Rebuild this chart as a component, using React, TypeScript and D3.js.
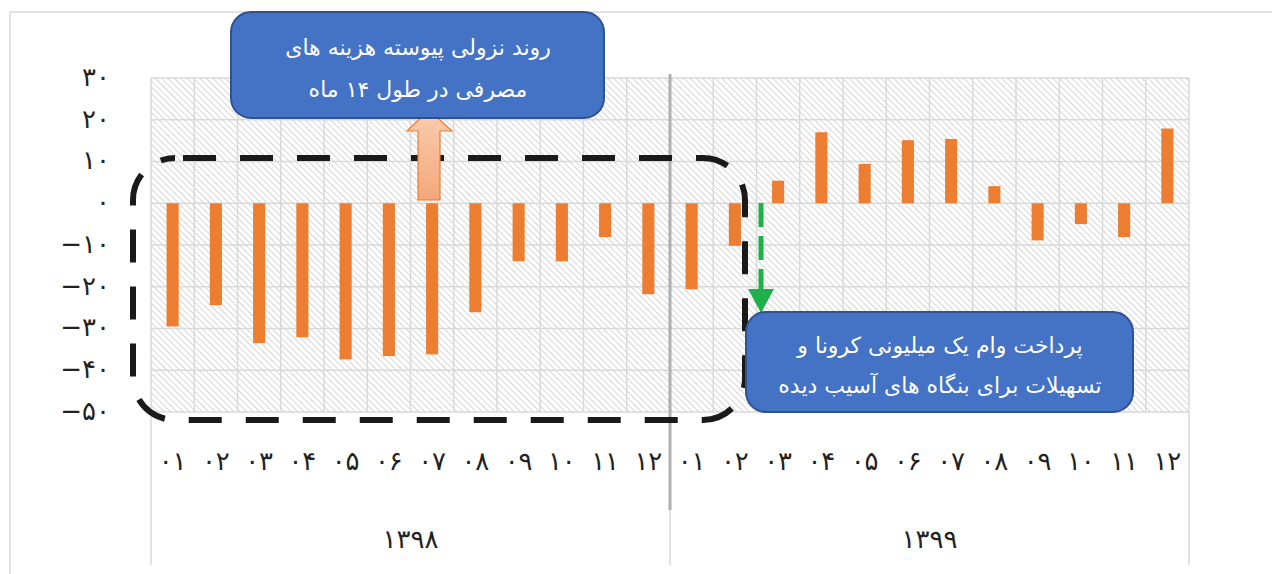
import * as d3 from "d3";

const months = ["۰۱", "۰۲", "۰۳", "۰۴", "۰۵", "۰۶", "۰۷", "۰۸", "۰۹", "۱۰", "۱۱", "۱۲"];
const years = ["۱۳۹۸", "۱۳۹۹"];
const values1398 = [-29.5, -24.4, -33.5, -32.1, -37.4, -36.6, -36.2, -26.1, -13.9, -13.9, -8.1, -21.8];
const values1399 = [-20.6, -10.2, 5.4, 17.0, 9.4, 15.1, 15.4, 4.1, -8.9, -5.0, -8.1, 17.9];
const yTicks = [30, 20, 10, 0, -10, -20, -30, -40, -50];
const note1 = ["روند نزولی پیوسته هزینه های", "مصرفی در طول ۱۴ ماه"];
const note2 = ["پرداخت وام یک میلیونی کرونا و", "تسهیلات برای بنگاه های آسیب دیده"];

const fa = (n: number) =>
  (n < 0 ? "−" : "") + String(Math.abs(n)).replace(/\d/g, (d) => "۰۱۲۳۴۵۶۷۸۹"[+d]);

const W = 1272;
const H = 574;
const L = 151;
const R = 1189;
const T = 78;
const B = 412;
const FONT = "'DejaVu Sans', sans-serif";

type Row = { key: string; year: string; month: string; value: number };
const rows: Row[] = [
  ...values1398.map((v, i) => ({ key: `a${i}`, year: years[0], month: months[i], value: v })),
  ...values1399.map((v, i) => ({ key: `b${i}`, year: years[1], month: months[i], value: v })),
];

export default function App() {
  const x = d3.scaleBand().domain(rows.map((d) => d.key)).range([L, R]);
  const y = d3.scaleLinear().domain([-50, 30]).range([B, T]);
  const bw = x.bandwidth();
  const barW = bw * 0.28;
  const mid = x(rows[12].key) ?? 0;
  const grid = "#d9d9d9";

  return (
    <svg
      width={W}
      height={H}
      viewBox={`0 0 ${W} ${H}`}
      style={{ position: "absolute", left: 0, top: 0, background: "#fff" }}
      fontFamily={FONT}
    >
      <defs>
        <pattern id="hatch" width={4.5} height={4.5} patternUnits="userSpaceOnUse" patternTransform="rotate(-45)">
          <rect width={4.5} height={4.5} fill="#fff" />
          <line x1={0} y1={0} x2={0} y2={4.5} stroke="#d0d0d0" strokeWidth={1.7} />
        </pattern>
        <linearGradient id="upGrad" x1="0" y1="0" x2="0" y2="1">
          <stop offset="0" stopColor="#f9cdb0" />
          <stop offset="1" stopColor="#f4a77a" />
        </linearGradient>
      </defs>

      {/* chart border */}
      <rect x={10} y={12} width={W + 20} height={H + 20} fill="none" stroke={grid} strokeWidth={1.5} />

      {/* plot area */}
      <rect x={L} y={T} width={R - L} height={B - T} fill="url(#hatch)" />
      {yTicks.map((t) => (
        <line key={t} x1={L} x2={R} y1={y(t)} y2={y(t)} stroke={grid} strokeWidth={1.5} />
      ))}
      {rows.map((d) => (
        <line key={d.key} x1={x(d.key)} x2={x(d.key)} y1={T} y2={B} stroke={grid} strokeWidth={1.5} />
      ))}
      <line x1={R} x2={R} y1={T} y2={B} stroke={grid} strokeWidth={1.5} />

      {/* category axis dividers */}
      {[L, mid, R].map((px) => (
        <line key={px} x1={px} x2={px} y1={B} y2={565} stroke={grid} strokeWidth={1.5} />
      ))}

      {/* bars */}
      {rows.map((d) => (
        <rect
          key={d.key}
          x={(x(d.key) ?? 0) + (bw - barW) / 2}
          y={y(Math.max(0, d.value))}
          width={barW}
          height={Math.abs(y(d.value) - y(0))}
          fill="#ed7d31"
        />
      ))}

      {/* y labels */}
      {yTicks.map((t) => (
        <text key={t} x={110} y={y(t)} dy="0.3em" textAnchor="end" fontSize={26} fill="#222" direction="ltr">
          {fa(t)}
        </text>
      ))}

      {/* month labels */}
      {rows.map((d) => (
        <text
          key={d.key}
          x={(x(d.key) ?? 0) + bw / 2}
          y={462}
          dy="0.3em"
          textAnchor="middle"
          fontSize={26}
          fill="#222"
        >
          {d.month}
        </text>
      ))}

      {/* year labels */}
      {years.map((yr, i) => (
        <text
          key={yr}
          x={i === 0 ? (L + mid) / 2 : (mid + R) / 2}
          y={540}
          dy="0.3em"
          textAnchor="middle"
          fontSize={26}
          fill="#222"
        >
          {yr}
        </text>
      ))}

      {/* divider between years */}
      <line x1={mid} x2={mid} y1={74} y2={510} stroke="#b0b0b0" strokeWidth={3} />

      {/* dashed frame */}
      <rect
        x={133}
        y={158}
        width={612}
        height={262}
        rx={42}
        fill="none"
        stroke="#1a1a1a"
        strokeWidth={6}
        strokeDasharray="33 24"
        strokeDashoffset={-8}
      />

      {/* up arrow */}
      <path
        d="M429,110 L452,131 L440,131 L440,200 L418,200 L418,131 L407,131 Z"
        fill="url(#upGrad)"
        stroke="#ed7d31"
        strokeWidth={1.2}
      />

      {/* green dashed arrow */}
      <line x1={761} x2={761} y1={203} y2={290} stroke="#1fb04b" strokeWidth={5} strokeDasharray="24 9" />
      <path d="M748,289 L774,289 L761,313 Z" fill="#1fb04b" />

      {/* callouts */}
      <rect x={231} y={12} width={373} height={106} rx={20} fill="#4472c4" stroke="#2f528f" strokeWidth={2} />
      {note1.map((s, i) => (
        <text key={i} x={418} y={47 + i * 42} dy="0.35em" textAnchor="middle" fontSize={22} fill="#fff" direction="rtl">
          {s}
        </text>
      ))}
      <rect x={746} y={312} width={387} height={100} rx={20} fill="#4472c4" stroke="#2f528f" strokeWidth={2} />
      {note2.map((s, i) => (
        <text key={i} x={940} y={345 + i * 40} dy="0.35em" textAnchor="middle" fontSize={22} fill="#fff" direction="rtl">
          {s}
        </text>
      ))}
    </svg>
  );
}
